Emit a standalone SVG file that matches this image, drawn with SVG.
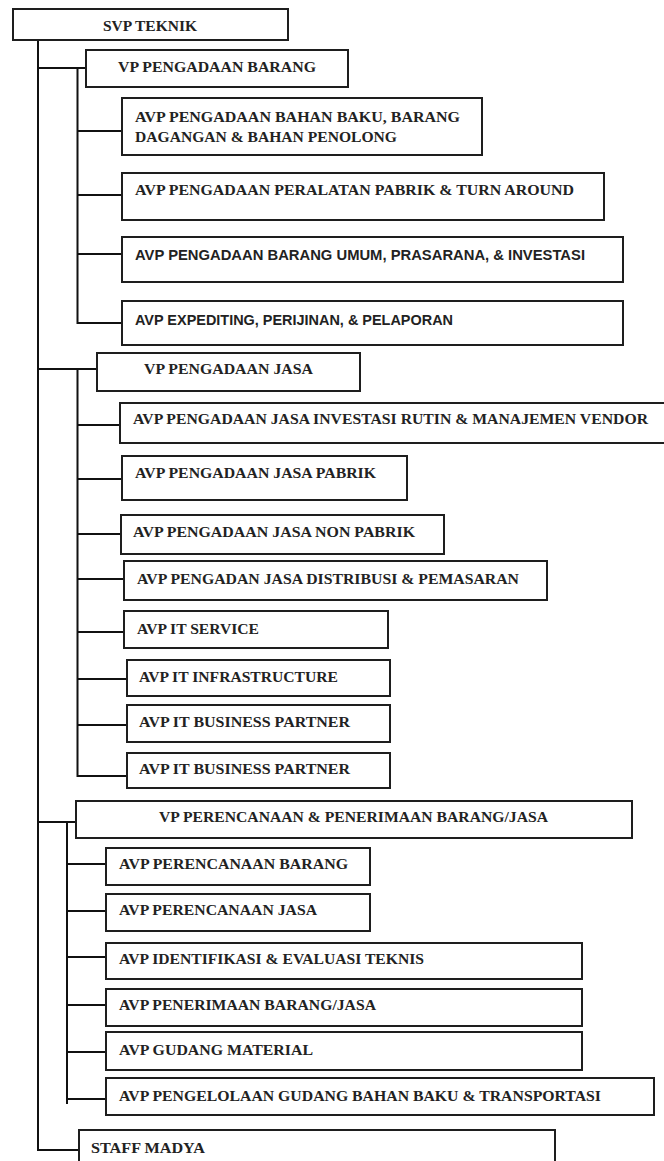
<svg xmlns="http://www.w3.org/2000/svg" width="664" height="1161" viewBox="0 0 664 1161">
<style>
.box{fill:#fff;stroke:#1e1e1e;stroke-width:2}
.t{font-family:"Liberation Serif","Times New Roman",serif;font-weight:bold;font-size:15px;fill:#222}
.s{font-family:"Liberation Sans",Arial,sans-serif;font-weight:bold;font-size:14px;fill:#222}
.c{fill:none;stroke:#111;stroke-width:2}
</style>
<rect width="664" height="1161" fill="#fff"/>
<g id="connectors">
<path class="c" d="M38 40V1150H79"/>
<path class="c" d="M38 68H86M77.5 68V323H122M77.5 131H122M77.5 195H122M77.5 254H122"/>
<path class="c" d="M38 369H97M77.5 369V776H127M77.5 425H120M77.5 479H122M77.5 534H121M77.5 579H124M77.5 632H124M77.5 679H127M77.5 725H127"/>
<path class="c" d="M38 822H76M67 822V1104M67 1099H106M67 864H106M67 911H106M67 957H106M67 1005H106M67 1052H106"/>
</g>
<g id="svp"><rect class="box" x="13" y="9" width="275" height="31"/><text class="t" x="103" y="31" textLength="94" lengthAdjust="spacingAndGlyphs">SVP TEKNIK</text></g>
<g id="vp-barang"><rect class="box" x="86" y="50" width="262" height="37"/><text class="t" x="118" y="72" textLength="198" lengthAdjust="spacingAndGlyphs">VP PENGADAAN BARANG</text></g>
<g id="avp-bahan-baku"><rect class="box" x="122" y="98" width="360" height="57"/><text class="t" x="135" y="122" textLength="325" lengthAdjust="spacingAndGlyphs">AVP PENGADAAN BAHAN BAKU, BARANG</text><text class="t" x="135" y="142" textLength="262" lengthAdjust="spacingAndGlyphs">DAGANGAN &amp; BAHAN PENOLONG</text></g>
<g id="avp-peralatan"><rect class="box" x="122" y="173" width="482" height="47"/><text class="t" x="135" y="195" textLength="439" lengthAdjust="spacingAndGlyphs">AVP PENGADAAN PERALATAN PABRIK &amp; TURN AROUND</text></g>
<g id="avp-barang-umum"><rect class="box" x="122" y="237" width="501" height="45"/><text class="s" x="135" y="260" textLength="450" lengthAdjust="spacingAndGlyphs">AVP PENGADAAN BARANG UMUM, PRASARANA, &amp; INVESTASI</text></g>
<g id="avp-expediting"><rect class="box" x="122" y="301" width="501" height="44"/><text class="s" x="135" y="325" textLength="318" lengthAdjust="spacingAndGlyphs">AVP EXPEDITING, PERIJINAN, &amp; PELAPORAN</text></g>
<g id="vp-jasa"><rect class="box" x="97" y="353" width="263" height="38"/><text class="t" x="144" y="374" textLength="169" lengthAdjust="spacingAndGlyphs">VP PENGADAAN JASA</text></g>
<g id="avp-jasa-investasi"><rect class="box" x="120" y="403" width="546" height="40"/><text class="t" x="133" y="424" textLength="515" lengthAdjust="spacingAndGlyphs">AVP PENGADAAN JASA INVESTASI RUTIN &amp; MANAJEMEN VENDOR</text></g>
<g id="avp-jasa-pabrik"><rect class="box" x="122" y="456" width="285" height="44"/><text class="t" x="135" y="478" textLength="241" lengthAdjust="spacingAndGlyphs">AVP PENGADAAN JASA PABRIK</text></g>
<g id="avp-jasa-non-pabrik"><rect class="box" x="121" y="515" width="323" height="39"/><text class="t" x="133" y="537" textLength="282" lengthAdjust="spacingAndGlyphs">AVP PENGADAAN JASA NON PABRIK</text></g>
<g id="avp-jasa-distribusi"><rect class="box" x="124" y="561" width="423" height="39"/><text class="t" x="137" y="584" textLength="382" lengthAdjust="spacingAndGlyphs">AVP PENGADAN JASA DISTRIBUSI &amp; PEMASARAN</text></g>
<g id="avp-it-service"><rect class="box" x="124" y="611" width="264" height="37"/><text class="t" x="137" y="634" textLength="122" lengthAdjust="spacingAndGlyphs">AVP IT SERVICE</text></g>
<g id="avp-it-infra"><rect class="box" x="127" y="660" width="263" height="36"/><text class="t" x="139" y="682" textLength="199" lengthAdjust="spacingAndGlyphs">AVP IT INFRASTRUCTURE</text></g>
<g id="avp-it-bp1"><rect class="box" x="127" y="705" width="263" height="37"/><text class="t" x="139" y="727" textLength="211" lengthAdjust="spacingAndGlyphs">AVP IT BUSINESS PARTNER</text></g>
<g id="avp-it-bp2"><rect class="box" x="127" y="753" width="263" height="35"/><text class="t" x="139" y="774" textLength="211" lengthAdjust="spacingAndGlyphs">AVP IT BUSINESS PARTNER</text></g>
<g id="vp-perencanaan"><rect class="box" x="76" y="801" width="556" height="37"/><text class="t" x="159" y="822" textLength="389" lengthAdjust="spacingAndGlyphs">VP PERENCANAAN &amp; PENERIMAAN BARANG/JASA</text></g>
<g id="avp-perencanaan-barang"><rect class="box" x="106" y="848" width="264" height="37"/><text class="t" x="119" y="869" textLength="229" lengthAdjust="spacingAndGlyphs">AVP PERENCANAAN BARANG</text></g>
<g id="avp-perencanaan-jasa"><rect class="box" x="106" y="894" width="264" height="37"/><text class="t" x="119" y="915" textLength="198" lengthAdjust="spacingAndGlyphs">AVP PERENCANAAN JASA</text></g>
<g id="avp-identifikasi"><rect class="box" x="106" y="943" width="476" height="36"/><text class="t" x="119" y="964" textLength="305" lengthAdjust="spacingAndGlyphs">AVP IDENTIFIKASI &amp; EVALUASI TEKNIS</text></g>
<g id="avp-penerimaan"><rect class="box" x="106" y="989" width="476" height="37"/><text class="t" x="119" y="1010" textLength="257" lengthAdjust="spacingAndGlyphs">AVP PENERIMAAN BARANG/JASA</text></g>
<g id="avp-gudang-material"><rect class="box" x="106" y="1032" width="476" height="38"/><text class="t" x="119" y="1055" textLength="194" lengthAdjust="spacingAndGlyphs">AVP GUDANG MATERIAL</text></g>
<g id="avp-pengelolaan-gudang"><rect class="box" x="106" y="1078" width="548" height="37"/><text class="t" x="119" y="1101" textLength="482" lengthAdjust="spacingAndGlyphs">AVP PENGELOLAAN GUDANG BAHAN BAKU &amp; TRANSPORTASI</text></g>
<g id="staff-madya"><rect class="box" x="79" y="1130" width="476" height="40"/><text class="t" x="91" y="1153" textLength="114" lengthAdjust="spacingAndGlyphs">STAFF MADYA</text></g>
</svg>
